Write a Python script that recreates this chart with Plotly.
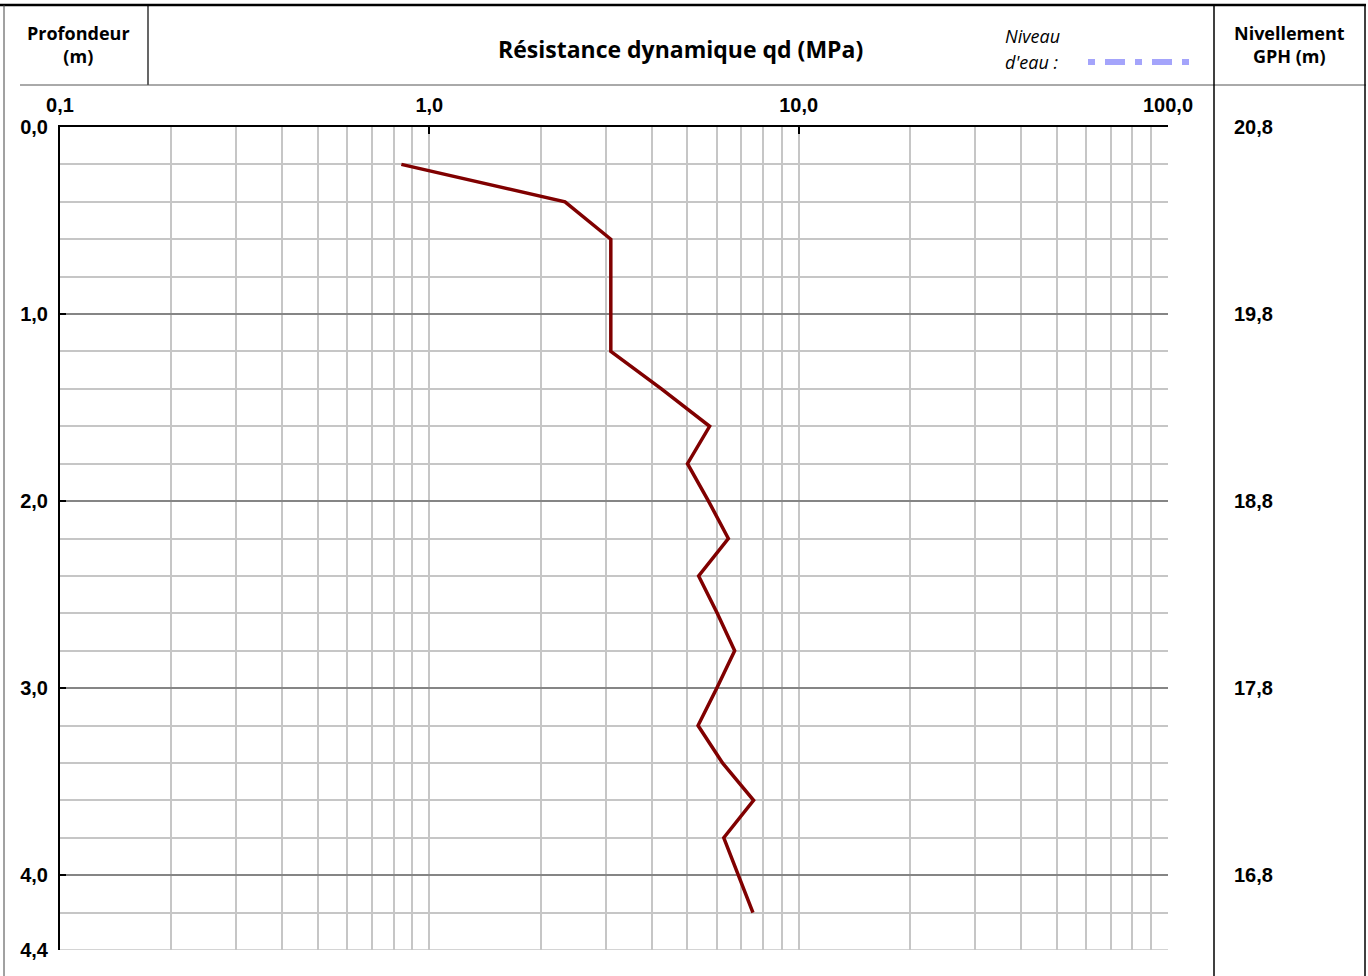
import plotly.graph_objects as go

# ---------------- data ----------------
depth_m = [0.2, 0.4, 0.6, 0.8, 1.0, 1.2, 1.4, 1.6, 1.8, 2.0, 2.2,
           2.4, 2.6, 2.8, 3.0, 3.2, 3.4, 3.6, 3.8, 4.0, 4.2]
qd_mpa = [0.84, 2.33, 3.10, 3.10, 3.10, 3.10, 4.25, 5.74, 5.00, 5.70, 6.45,
          5.36, 6.02, 6.71, 6.00, 5.34, 6.22, 7.55, 6.27, 6.88, 7.52]

qd_ticks = [0.1, 1, 10, 100]
qd_minor = [0.2, 0.3, 0.4, 0.5, 0.6, 0.7, 0.8, 0.9,
            2, 3, 4, 5, 6, 7, 8, 9,
            20, 30, 40, 50, 60, 70, 80, 90]
depth_ticks = [0.0, 1.0, 2.0, 3.0, 4.0, 4.4]
depth_minor = [0.2, 0.4, 0.6, 0.8, 1.2, 1.4, 1.6, 1.8, 2.2, 2.4, 2.6, 2.8,
               3.2, 3.4, 3.6, 3.8, 4.2, 4.4]
depth_range = [4.4, 0.0]
ground_level = 20.8
elev_ticks = [20.8, 19.8, 18.8, 17.8, 16.8]

# ---------------- layout geometry (pixels) ----------------
W, H = 1368, 976
ML, MR, MT, MB = 60, 200, 127, 26
PW = W - ML - MR
PH = H - MT - MB


def px(xp):
    return (xp - ML) / PW


def py(yp):
    return (H - MB - yp) / PH


LIGHT = "#c6c6c6"
DARK = "#858585"
TICKFONT = dict(family="Liberation Sans, Arial, sans-serif", size=20, color="black", weight="bold")
HEADFONT = "Open Sans, sans-serif"

fig = go.Figure()
fig.add_trace(go.Scatter(
    x=qd_mpa, y=depth_m, mode="lines",
    line=dict(color="#800000", width=3.5),
    showlegend=False, hoverinfo="x+y"))
# elevation axis carrier (invisible)
fig.add_trace(go.Scatter(
    x=[qd_ticks[0]], y=[ground_level], yaxis="y2", mode="markers",
    marker=dict(opacity=0), showlegend=False, hoverinfo="skip"))

shapes = []


def hline(y0, x0, x1, color="black", width=1):
    shapes.append(dict(type="line", xref="paper", yref="paper",
                       x0=px(x0), x1=px(x1), y0=py(y0), y1=py(y0),
                       line=dict(color=color, width=width)))


def vline(x0, y0, y1, color="black", width=1):
    shapes.append(dict(type="line", xref="paper", yref="paper",
                       x0=px(x0), x1=px(x0), y0=py(y0), y1=py(y1),
                       line=dict(color=color, width=width)))


# frame of the sheet
hline(5, 0, 1366, width=2.5)
vline(4, 5, 976, color="#444444", width=1)
vline(148, 5, 85, width=1.2)
hline(85, 20, 1366, color="#555555", width=1)
vline(1214, 5, 976, width=1.5)
vline(1365, 5, 976, width=1.5)
# bottom border of the grid in light grey (over the major gridline)
shapes.append(dict(type="line", xref="paper", yref="y", layer="between",
                   x0=0, x1=1, y0=depth_range[0], y1=depth_range[0],
                   line=dict(color=LIGHT, width=1.5)))
# water level legend sample
shapes.append(dict(type="line", xref="paper", yref="paper",
                   x0=px(1088), x1=px(1193), y0=py(62), y1=py(62),
                   line=dict(color="rgba(125,125,250,0.7)", width=6,
                             dash="7px,10px,20px,10px")))

annotations = [
    dict(text="Profondeur<br>(m)", x=px(78), y=py(44), xref="paper", yref="paper",
         showarrow=False, xanchor="center", yanchor="middle",
         font=dict(family=HEADFONT, size=18, color="black", weight="bold")),
    dict(text="Résistance dynamique qd (MPa)", x=px(680), y=py(49), xref="paper", yref="paper",
         showarrow=False, xanchor="center", yanchor="middle",
         font=dict(family=HEADFONT, size=23, color="black", weight="bold")),
    dict(text="Niveau", x=px(1003), y=py(36), xref="paper", yref="paper",
         showarrow=False, xanchor="left", yanchor="middle",
         font=dict(family=HEADFONT, size=18, color="black", style="italic")),
    dict(text="d'eau :", x=px(1003), y=py(62), xref="paper", yref="paper",
         showarrow=False, xanchor="left", yanchor="middle",
         font=dict(family=HEADFONT, size=18, color="black", style="italic")),
    dict(text="Nivellement<br>GPH (m)", x=px(1289), y=py(45), xref="paper", yref="paper",
         showarrow=False, xanchor="center", yanchor="middle",
         font=dict(family=HEADFONT, size=18, color="black", weight="bold")),
]

fig.update_layout(
    width=W, height=H,
    margin=dict(l=ML, r=MR, t=MT, b=MB, pad=0),
    paper_bgcolor="white", plot_bgcolor="white",
    separators=", ",
    shapes=shapes, annotations=annotations,
    xaxis=dict(
        type="log", range=[-1, 2], side="top",
        tickvals=qd_ticks, tickformat=".1f",
        ticks="inside", ticklen=7, tickwidth=2, tickcolor="black",
        showline=True, linecolor="black", linewidth=2,
        showgrid=True, gridcolor=LIGHT, gridwidth=1.5,
        minor=dict(tickvals=qd_minor, showgrid=True, gridcolor=LIGHT, gridwidth=1.5, ticks=""),
        tickfont=TICKFONT, ticklabelstandoff=5,
        fixedrange=True,
    ),
    yaxis=dict(
        range=depth_range, tickvals=depth_ticks, tickformat=".1f",
        ticks="inside", ticklen=6, tickwidth=2, tickcolor="black",
        showline=True, linecolor="black", linewidth=2,
        showgrid=True, gridcolor=DARK, gridwidth=1.5, zeroline=False,
        minor=dict(tickvals=depth_minor, showgrid=True, gridcolor=LIGHT, gridwidth=1.5, ticks=""),
        tickfont=TICKFONT, ticklabelstandoff=6,
        fixedrange=True,
    ),
    yaxis2=dict(
        overlaying="y", side="right", anchor="x",
        range=[ground_level - depth_range[0], ground_level - depth_range[1]],
        tickvals=elev_ticks, tickformat=".1f",
        ticks="", showline=False, showgrid=False, zeroline=False,
        tickfont=TICKFONT, ticklabelstandoff=65,
        fixedrange=True,
    ),
)

fig.write_html("out.html", config={"displayModeBar": False},
               post_script="document.body.style.margin='0';document.body.style.overflow='hidden';")
